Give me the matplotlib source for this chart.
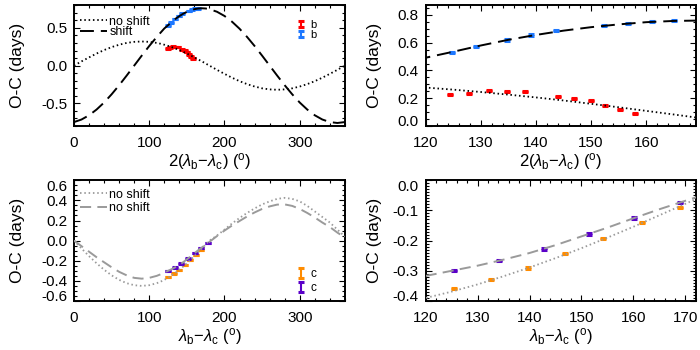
import matplotlib
matplotlib.use('Agg')
import matplotlib.pyplot as plt
from matplotlib.ticker import AutoMinorLocator, FormatStrFormatter
from matplotlib.container import ErrorbarContainer
from matplotlib.legend_handler import HandlerErrorbar

plt.rcParams['font.family'] = ['Liberation Sans', 'DejaVu Sans']
plt.rcParams['mathtext.fontset'] = 'custom'
plt.rcParams['mathtext.rm'] = 'Liberation Sans'
plt.rcParams['mathtext.it'] = 'Liberation Sans:italic'
plt.rcParams['axes.unicode_minus'] = False
plt.rcParams['lines.scale_dashes'] = False

# model O-C curves (days) vs angle (deg)
curve_x = [0, 10, 20, 30, 40, 50, 60, 70, 80, 90, 100, 110, 115, 120, 125, 130,
           135, 140, 145, 150, 155, 160, 165, 170, 175, 180, 190, 200, 210, 220,
           230, 240, 250, 260, 270, 280, 290, 300, 310, 320, 330, 340, 350, 360]
b_noshift = [0.0, 0.056, 0.109, 0.16, 0.206, 0.245, 0.277, 0.301, 0.315, 0.32,
             0.315, 0.301, 0.29, 0.277, 0.262, 0.245, 0.226, 0.206, 0.184, 0.16,
             0.135, 0.109, 0.083, 0.056, 0.028, 0.0, -0.056, -0.109, -0.16, -0.206,
             -0.245, -0.277, -0.301, -0.315, -0.32, -0.315, -0.301, -0.277, -0.245,
             -0.206, -0.16, -0.109, -0.056, 0.0]
b_shift = [-0.748, -0.714, -0.658, -0.582, -0.489, -0.38, -0.26, -0.132, 0.0, 0.132,
           0.26, 0.38, 0.436, 0.492, 0.535, 0.58, 0.621, 0.656, 0.687, 0.712,
           0.732, 0.748, 0.757, 0.76, 0.757, 0.748, 0.714, 0.658, 0.582, 0.489,
           0.38, 0.26, 0.132, 0.0, -0.132, -0.26, -0.38, -0.489, -0.582, -0.658,
           -0.714, -0.748, -0.76, -0.748]
c_noshift = [0.0, -0.078, -0.154, -0.225, -0.289, -0.345, -0.39, -0.423, -0.443, -0.45,
             -0.443, -0.423, -0.408, -0.39, -0.369, -0.345, -0.318, -0.289, -0.258,
             -0.225, -0.19, -0.154, -0.116, -0.078, -0.039, 0.0, 0.05, 0.11, 0.17,
             0.225, 0.275, 0.32, 0.36, 0.39, 0.415, 0.425, 0.415, 0.39, 0.345, 0.29,
             0.235, 0.18, 0.11, 0.04]
c_shift = [0.0, -0.055, -0.11, -0.165, -0.215, -0.265, -0.31, -0.345, -0.37, -0.378,
           -0.37, -0.35, -0.335, -0.317, -0.30, -0.283, -0.263, -0.241, -0.215,
           -0.186, -0.157, -0.126, -0.096, -0.068, -0.04, -0.012, 0.045, 0.10, 0.15,
           0.195, 0.24, 0.28, 0.315, 0.34, 0.358, 0.36, 0.345, 0.315, 0.275, 0.23,
           0.18, 0.135, 0.08, 0.03]

# measured timings
b_red_x = [124.5, 127.9, 131.5, 134.8, 138.1, 144.0, 147.0, 150.0, 152.6, 155.2, 158.0]
b_red_y = [0.224, 0.237, 0.253, 0.248, 0.248, 0.212, 0.200, 0.181, 0.147, 0.117, 0.093]
b_red_err = [0.004] * len(b_red_x)
b_blue_x = [124.8, 129.1, 134.7, 139.2, 143.7, 152.3, 156.7, 161.0, 165.0]
b_blue_y = [0.532, 0.572, 0.620, 0.656, 0.687, 0.723, 0.740, 0.755, 0.757]
b_blue_err = [0.004] * len(b_blue_x)
c_orange_x = [125.4, 132.6, 139.7, 146.9, 154.2, 161.6, 168.9]
c_orange_y = [-0.359, -0.328, -0.291, -0.242, -0.193, -0.141, -0.091]
c_orange_err = [0.002] * len(c_orange_x)
c_purple_x = [125.4, 134.2, 142.8, 151.4, 160.2, 168.9, 177.6]
c_purple_y = [-0.300, -0.267, -0.228, -0.178, -0.125, -0.073, -0.025]
c_purple_err = [0.002] * len(c_purple_x)

RED, BLUE, ORANGE, PURPLE, GRAY = '#ff0000', '#1e78ff', '#ff8c00', '#5a00c8', '#9a9a9a'
DOT = (0, (1.1, 2.0))
DASH_K = (0, (10, 5))
DASH_G = (0, (8, 4.5))

fig = plt.figure(figsize=(7, 3.5), dpi=100)
ax_tl = fig.add_axes([0.1057, 0.64, 0.387, 0.345])
ax_tr = fig.add_axes([0.608, 0.64, 0.386, 0.345])
ax_bl = fig.add_axes([0.1057, 0.14, 0.387, 0.345])
ax_br = fig.add_axes([0.608, 0.14, 0.386, 0.345])

xlab_b = r'2($\lambda_\mathrm{b}$$-$$\lambda_\mathrm{c}$) ($^\mathrm{o}$)'
xlab_c = r'$\lambda_\mathrm{b}$$-$$\lambda_\mathrm{c}$ ($^\mathrm{o}$)'


def style(ax, xlim, ylim, xticks, yticks, xminor, yminor, xlabel, ylab_x):
    ax.set_xlim(xlim)
    ax.set_ylim(ylim)
    ax.set_xticks(xticks)
    ax.set_yticks(yticks)
    ax.xaxis.set_minor_locator(AutoMinorLocator(xminor))
    ax.yaxis.set_minor_locator(AutoMinorLocator(yminor))
    ax.yaxis.set_major_formatter(FormatStrFormatter('%.1f'))
    ax.tick_params(which='both', direction='in', top=True, right=True, labelsize=11, width=0.8)
    ax.tick_params(which='major', length=4, pad=7)
    ax.tick_params(axis='y', which='major', pad=5)
    ax.tick_params(which='minor', length=2)
    for s in ax.spines.values():
        s.set_linewidth(1.4)
    ax.set_xlabel(xlabel, fontsize=12)
    ax.xaxis.label.set_va('center')
    ax.xaxis.set_label_coords(0.5, -0.29)
    ax.set_ylabel('O-C (days)', fontsize=12.5)
    ax.yaxis.label.set_va('center')
    ax.yaxis.set_label_coords(ylab_x, 0.5)
    # end labels pulled inside the frame
    for lab, v in zip(ax.get_yticklabels(), yticks):
        if abs(v - ylim[0]) < 1e-6:
            lab.set_va('baseline')
        elif abs(v - ylim[1]) < 1e-6:
            lab.set_va('top')


def errs(ax, x, y, e, col):
    return ax.errorbar(x, y, yerr=e, fmt='none', ecolor=col, elinewidth=1.5,
                       capsize=2.5, capthick=2.2, zorder=2)


# top row: planet b
for ax in (ax_tl, ax_tr):
    eb1 = errs(ax, b_red_x, b_red_y, b_red_err, RED)
    eb2 = errs(ax, b_blue_x, b_blue_y, b_blue_err, BLUE)
    l1, = ax.plot(curve_x, b_noshift, color='k', lw=1.3, ls=DOT, zorder=3, label='no shift')
    l2, = ax.plot(curve_x, b_shift, color='k', lw=1.4, ls=DASH_K, zorder=3, label='shift')

leg = ax_tl.legend(handles=[l1, l2], loc='upper left', bbox_to_anchor=(0.022, 0.915),
                   frameon=False, fontsize=9, handlelength=2.2, handletextpad=0.15,
                   labelspacing=-0.1, borderpad=0, borderaxespad=0)
ax_tl.add_artist(leg)
ax_tl.legend(handles=[eb1, eb2], labels=['b', 'b'], loc='upper left',
             bbox_to_anchor=(0.82, 0.88), frameon=False, fontsize=8, handlelength=0.9,
             handletextpad=0.35, labelspacing=0.0, borderpad=0, borderaxespad=0,
             handler_map={ErrorbarContainer: HandlerErrorbar(xerr_size=0.3, yerr_size=0.3)})

style(ax_tl, (0, 360), (-0.8, 0.8), [0, 100, 200, 300], [-0.5, 0.0, 0.5], 5, 5, xlab_b, -0.21)
style(ax_tr, (120, 169), (0.0, 0.87), [120, 130, 140, 150, 160], [0.0, 0.2, 0.4, 0.6, 0.8],
      5, 4, xlab_b, -0.19)

# bottom row: planet c
for ax in (ax_bl, ax_br):
    ec1 = errs(ax, c_orange_x, c_orange_y, c_orange_err, ORANGE)
    ec2 = errs(ax, c_purple_x, c_purple_y, c_purple_err, PURPLE)
    g1, = ax.plot(curve_x, c_noshift, color=GRAY, lw=1.3, ls=DOT, zorder=3, label='no shift')
    g2, = ax.plot(curve_x, c_shift, color=GRAY, lw=1.4, ls=DASH_G, zorder=3, label='no shift')

leg = ax_bl.legend(handles=[g1, g2], loc='upper left', bbox_to_anchor=(0.022, 0.93),
                   frameon=False, fontsize=9, handlelength=2.2, handletextpad=0.15,
                   labelspacing=0.1, borderpad=0, borderaxespad=0)
ax_bl.add_artist(leg)
ax_bl.legend(handles=[ec1, ec2], labels=['c', 'c'], loc='lower left',
             bbox_to_anchor=(0.82, 0.06), frameon=False, fontsize=8.5, handlelength=0.85,
             handletextpad=0.35, labelspacing=0.15, borderpad=0, borderaxespad=0,
             handler_map={ErrorbarContainer: HandlerErrorbar(xerr_size=0.5, yerr_size=0.42)})

style(ax_bl, (0, 360), (-0.6, 0.6), [0, 100, 200, 300],
      [-0.6, -0.4, -0.2, 0.0, 0.2, 0.4, 0.6], 5, 4, xlab_c, -0.21)
style(ax_br, (120, 172), (-0.4, 0.0), [120, 130, 140, 150, 160, 170],
      [-0.4, -0.3, -0.2, -0.1, 0.0], 5, 10, xlab_c, -0.19)

fig.savefig('out.png', dpi=100)
